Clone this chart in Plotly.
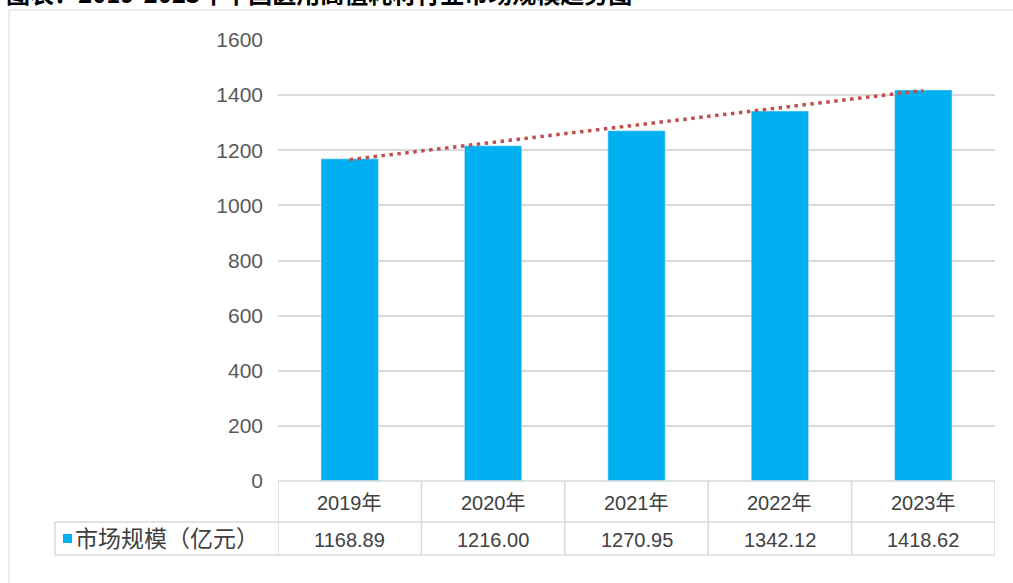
import plotly.graph_objects as go

# ---- data ----
categories = ["2019年", "2020年", "2021年", "2022年", "2023年"]
market_size = [1168.89, 1216.00, 1270.95, 1342.12, 1418.62]
value_labels = ["1168.89", "1216.00", "1270.95", "1342.12", "1418.62"]
series_name = "市场规模（亿元）"
trend_values = [1166, 1417]          # dotted trendline, read at first and last year
y_ticks = [0, 200, 400, 600, 800, 1000, 1200, 1400, 1600]
title_text = "图表：2019-2023年中国医用高值耗材行业市场规模趋势图"

# ---- layout geometry (page pixels) ----
W, H = 1013, 583
L, R, T, B = 278, 995, 40, 481


def px_x(px):
    return (px - L) / (R - L)


def px_y(py):
    return (B - py) / (B - T)


BAR = "#00B0F0"
GRID = "#D9D9D9"
TXT = "#404040"
FONT = "Liberation Sans, Noto Sans CJK SC, sans-serif"

fig = go.Figure()
fig.add_trace(go.Bar(x=categories, y=market_size, marker_color=BAR,
                     width=0.4, name=series_name, showlegend=False))
fig.add_trace(go.Scatter(x=[categories[0], categories[-1]], y=trend_values,
                         mode="lines", showlegend=False,
                         line=dict(color="#C0504D", width=3.5, dash="3.5px,4.5px")))

shapes = []
# outer chart border
shapes.append(dict(type="rect", xref="paper", yref="paper",
                   x0=px_x(9), x1=px_x(1040), y0=px_y(10), y1=px_y(620),
                   line=dict(color=GRID, width=1), fillcolor="rgba(0,0,0,0)", layer="below"))
# data table lines
row1_bottom, row2_bottom = 522, 555
shapes.append(dict(type="line", xref="paper", yref="paper", x0=0, x1=1,
                   y0=px_y(B), y1=px_y(B), line=dict(color=GRID, width=1.5)))
for yy in (row1_bottom, row2_bottom):
    shapes.append(dict(type="line", xref="paper", yref="paper", x0=px_x(55), x1=1,
                       y0=px_y(yy), y1=px_y(yy), line=dict(color=GRID, width=1.5)))
shapes.append(dict(type="line", xref="paper", yref="paper", x0=px_x(55), x1=px_x(55),
                   y0=px_y(row1_bottom), y1=px_y(row2_bottom), line=dict(color=GRID, width=1.5)))
for i in range(len(categories) + 1):
    shapes.append(dict(type="line", xref="x", yref="paper", x0=i - 0.5, x1=i - 0.5,
                       y0=px_y(B), y1=px_y(row2_bottom), line=dict(color=GRID, width=1.5)))
# legend key square
shapes.append(dict(type="rect", xref="paper", yref="paper",
                   x0=px_x(63), x1=px_x(72), y0=px_y(534), y1=px_y(543),
                   line=dict(width=0), fillcolor=BAR))

annotations = []
for cat, lab in zip(categories, value_labels):
    annotations.append(dict(x=cat, xref="x", xanchor="center", y=px_y(503), yref="paper",
                            yanchor="middle", text=cat, showarrow=False,
                            font=dict(size=20, color=TXT, family=FONT)))
    annotations.append(dict(x=cat, xref="x", xanchor="center", y=px_y(540), yref="paper",
                            yanchor="middle", text=lab, showarrow=False,
                            font=dict(size=20, color=TXT, family=FONT)))
annotations.append(dict(x=px_x(73), xref="paper", xanchor="left", y=px_y(539), yref="paper",
                        yanchor="middle", text=series_name, showarrow=False,
                        font=dict(size=23, color=TXT, family=FONT)))
annotations.append(dict(x=px_x(4), xref="paper", xanchor="left", y=px_y(12), yref="paper",
                        yanchor="bottom", text="<b>" + title_text + "</b>", showarrow=False,
                        font=dict(size=24, color="#000000", family="Noto Sans CJK SC")))

fig.update_layout(
    width=W, height=H,
    margin=dict(l=L, r=W - R, t=T, b=H - B, pad=0),
    paper_bgcolor="white", plot_bgcolor="white",
    shapes=shapes, annotations=annotations,
    bargap=0.6,
    xaxis=dict(type="category", range=[-0.5, len(categories) - 0.5],
               showticklabels=False, showgrid=False, zeroline=False, showline=False, ticks=""),
    yaxis=dict(range=[0, 1600], tickvals=y_ticks, showgrid=True, gridcolor=GRID, gridwidth=1.5,
               zeroline=False, showline=False, ticks="", ticklabelstandoff=14,
               tickfont=dict(size=21, color="#595959", family=FONT)),
)

fig.write_html("out.html", config={"displayModeBar": False},
               post_script="document.body.style.margin='0';document.body.style.overflow='hidden';")
